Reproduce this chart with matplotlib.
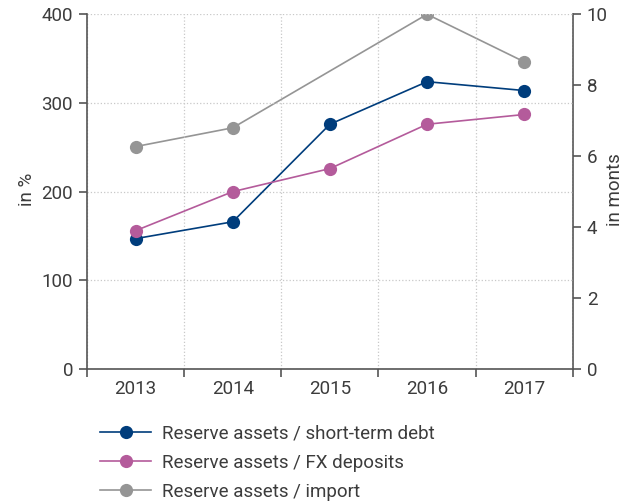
import matplotlib
import matplotlib.pyplot as plt
import numpy as np
from matplotlib.ticker import FixedLocator, NullFormatter

matplotlib.use("Agg")

# Data
years = ["2013", "2014", "2015", "2016", "2017"]
short_term_debt = [147, 166, 276, 324, 314]       # in %
fx_deposits = [156, 200, 226, 276, 287]           # in %
imports_months = [6.27, 6.8, np.nan, 10.0, 8.66]  # in months (no 2015 value)

labels = [
    "Reserve assets / short-term debt",
    "Reserve assets / FX deposits",
    "Reserve assets / import",
]

BLUE = "#003d7c"
PINK = "#b45b9b"
GREY = "#959595"
TEXT = "#3c3c3c"
SPINE = "#555555"
FS = 13.5

plt.rcParams["font.family"] = ["Roboto", "DejaVu Sans"]
plt.rcParams["font.size"] = FS

fig = plt.figure(figsize=(6.24, 5.03), dpi=100)
ax = fig.add_axes([0.1394, 0.2664, 0.7786, 0.7052])
ax2 = ax.twinx()

x = np.arange(len(years))
style = dict(linewidth=1.2, marker="o", markersize=9.5, markeredgewidth=0)

# grey series without 2015: connect available points
mask = ~np.isnan(imports_months)
l3, = ax2.plot(x[mask], np.array(imports_months)[mask], color=GREY, **style)
l1, = ax.plot(x, short_term_debt, color=BLUE, **style)
l2, = ax.plot(x, fx_deposits, color=PINK, **style)
ax.set_zorder(ax2.get_zorder() + 1)
ax.patch.set_visible(False)

ax.set_xlim(-0.5, len(years) - 0.5)
ax.set_ylim(0, 400)
ax2.set_ylim(0, 10)

ax.set_yticks([0, 100, 200, 300, 400])
ax2.set_yticks([0, 2, 4, 6, 8, 10])

# category labels at centres, tick marks at boundaries
ax.set_xticks(x)
ax.set_xticklabels(years)
ax.tick_params(axis="x", which="major", length=0, pad=8)
ax.xaxis.set_minor_locator(FixedLocator(np.arange(-0.5, len(years), 1.0)))
ax.xaxis.set_minor_formatter(NullFormatter())
ax.tick_params(axis="x", which="minor", length=6, width=1.2, color=SPINE)

ax.grid(True, which="minor", axis="x", linestyle=":", color="#c8c8c8", linewidth=0.9)
ax.grid(True, which="major", axis="y", linestyle=":", color="#c8c8c8", linewidth=0.9)
ax.set_axisbelow(True)

for a in (ax, ax2):
    a.spines["top"].set_visible(False)
    for side in ("left", "right", "bottom"):
        a.spines[side].set_color(SPINE)
        a.spines[side].set_linewidth(1.2)
    a.tick_params(axis="y", length=6, width=1.2, pad=4, color=SPINE,
                  labelcolor=TEXT, labelsize=FS)
ax.tick_params(axis="x", labelcolor=TEXT, labelsize=FS)
ax.spines["right"].set_visible(False)
ax2.spines["left"].set_visible(False)
ax2.spines["bottom"].set_visible(False)

ax.set_ylabel("in %", color=TEXT, fontsize=FS)
ax2.set_ylabel("in monts", color=TEXT, fontsize=FS)
ax.yaxis.set_label_coords(-0.105, 0.506)
ax2.yaxis.set_label_coords(1.068, 0.506)

fig.legend(
    [l1, l2, l3], labels,
    loc="upper left", bbox_to_anchor=(0.134, 0.19),
    frameon=False, fontsize=FS, labelcolor=TEXT,
    handlelength=2.7, handletextpad=0.6, labelspacing=0.6,
)

fig.savefig("out.png", dpi=100)
